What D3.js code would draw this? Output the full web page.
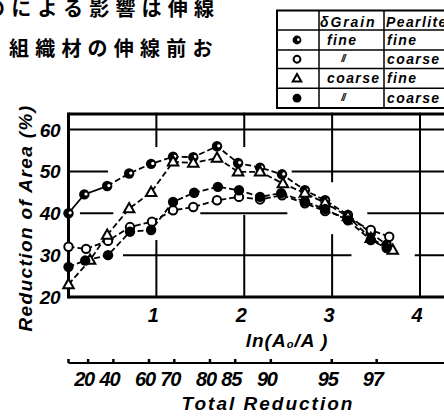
<!DOCTYPE html>
<html><head><meta charset="utf-8">
<script src="https://cdn.jsdelivr.net/npm/d3@7"></script>
<style>body{margin:0;background:#fff}svg{display:block}</style>
</head><body>
<svg id="c" width="444" height="417"></svg>
<script>
// ---------- data ----------
const lnTicks = [1, 2, 3, 4];
const yTicks = [20, 30, 40, 50, 60];
const reductionTicks = [20, 40, 60, 70, 80, 85, 90, 95, 97];

// ◐ δ fine / pearlite fine
const xA = [0, 0.18, 0.44, 0.69, 0.94, 1.19, 1.42, 1.69, 1.93, 2.18, 2.43, 2.69, 2.92, 3.18, 3.44, 3.62];
const yA = [40, 44.5, 46.5, 49.5, 51.8, 53.5, 53.4, 56, 52, 50.9, 49.3, 45.5, 43.1, 39.6, 35.3, 32.5];
// ○ δ fine / pearlite coarse
const xB = [0, 0.2, 0.45, 0.7, 0.95, 1.19, 1.42, 1.69, 1.94, 2.18, 2.43, 2.69, 2.92, 3.18, 3.44, 3.65];
const yB = [32, 31.5, 33.4, 36.7, 38, 40.7, 41.5, 43.1, 43.9, 43.3, 44.3, 42.4, 40.5, 38.8, 36, 34.4];
// △ δ coarse / pearlite fine
const xC = [0, 0.245, 0.44, 0.69, 0.94, 1.19, 1.42, 1.69, 1.93, 2.18, 2.44, 2.69, 2.92, 3.18, 3.44, 3.69];
const yC = [23, 28.8, 34.8, 41.1, 45, 52.3, 52, 53.2, 49.9, 49.9, 47.1, 44.8, 42.5, 39.2, 34, 31.2];
// ● δ coarse / pearlite coarse
const xD = [0, 0.19, 0.45, 0.7, 0.94, 1.19, 1.43, 1.7, 1.94, 2.18, 2.42, 2.69, 2.92, 3.18, 3.44, 3.62];
const yD = [27.2, 28.7, 30, 35.6, 36, 42.7, 44.9, 46.3, 45.5, 43.9, 44.8, 42.8, 41, 38.3, 33.6, 31.7];

const legendHeader = ["δGrain", "Pearlite"];
const legendGrain = ["fine", "〃", "coarse", "〃"];
const legendPearlite = ["fine", "coarse", "fine", "coarse"];
const legendSymbols = ["half", "open", "tri", "filled"];

// gridline pieces (value ranges along the other axis) – the drawing's grid is broken
const hGridValues = [30, 40, 50, 60];
const hGridSpans = [[[0.62, 3.22], [3.94, 4.5]], [[0.13, 0.51], [1.5, 2.49], [3.4, 4.5]], [[0, 0.45], [2.54, 4.5]], [[0, 4.5]]];
const vGridValues = [1, 2, 3, 4];
const vGridSpans = [[[20, 33.6], [55.8, 64]], [[20, 39.6], [55.8, 64]], [[20, 35], [47.4, 64]], [[20, 64]]];

const titleLines = ["のによる影響は伸線", "組織材の伸線前お"];

// ---------- layout ----------
const svg = d3.select("#c");
const x = d3.scaleLinear().domain([0, 4]).range([68.5, 420]);
const y = d3.scaleLinear().domain([20, 60]).range([297, 129.5]);
const yTop = 63.7, xRight = 4.5;
const F = "'Liberation Sans', Arial, sans-serif";
const FW = "bold";

// title text (Japanese)
svg.selectAll("text.title").data(titleLines).join("text")
  .attr("class", "title")
  .attr("x", (d, i) => i === 0 ? -15 : 9)
  .attr("y", (d, i) => i === 0 ? 16 : 56)
  .attr("font-family", "'Noto Sans CJK JP', sans-serif")
  .attr("font-weight", 700)
  .attr("font-size", 20).attr("letter-spacing", 6.2)
  .attr("fill", "#000").text(d => d);

// grid
const g = svg.append("g");
hGridValues.forEach((v, i) => {
  hGridSpans[i].forEach(s => {
    g.append("line").attr("x1", x(s[0])).attr("x2", x(s[1]))
      .attr("y1", y(v)).attr("y2", y(v))
      .attr("stroke", "#000").attr("stroke-width", 2);
  });
});
vGridValues.forEach((v, i) => {
  vGridSpans[i].forEach(s => {
    g.append("line").attr("x1", x(v)).attr("x2", x(v))
      .attr("y1", y(s[0])).attr("y2", y(s[1]))
      .attr("stroke", "#000").attr("stroke-width", 2);
  });
});
// frame: left, top, bottom
g.append("line").attr("x1", x(0)).attr("x2", x(0)).attr("y1", y(yTop) - 1.5).attr("y2", y(20) + 1.5).attr("stroke", "#000").attr("stroke-width", 3);
g.append("line").attr("x1", x(0)).attr("x2", x(xRight)).attr("y1", y(yTop)).attr("y2", y(yTop)).attr("stroke", "#000").attr("stroke-width", 3);
g.append("line").attr("x1", x(0)).attr("x2", x(xRight)).attr("y1", y(20)).attr("y2", y(20)).attr("stroke", "#000").attr("stroke-width", 3);

// y tick labels
svg.selectAll("text.yt").data(yTicks).join("text").attr("class", "yt")
  .attr("x", 60).attr("y", d => y(d) + 7)
  .attr("text-anchor", "end").attr("font-family", F).attr("font-style", "italic").attr("font-weight", FW)
  .attr("font-size", 19).attr("letter-spacing", -0.5).text(d => d);

// x tick labels
svg.selectAll("text.xt").data(lnTicks).join("text").attr("class", "xt")
  .attr("x", d => x(d) - 3).attr("y", 322)
  .attr("text-anchor", "middle").attr("font-family", F).attr("font-style", "italic").attr("font-weight", FW)
  .attr("font-size", 20).text(d => d);

// ln(Ao/A)
const ln = svg.append("text").attr("x", 287).attr("y", 347).attr("text-anchor", "middle")
  .attr("font-family", F).attr("font-style", "italic").attr("font-weight", FW).attr("font-size", 19).attr("letter-spacing", 1);
ln.append("tspan").text("ln(A");
ln.append("tspan").attr("font-size", 11).attr("dy", 1).text("o");
ln.append("tspan").attr("dy", -1).text("/A )");

// y title
svg.append("text").attr("transform", "translate(32,218) rotate(-90)")
  .attr("text-anchor", "middle").attr("font-family", F).attr("font-style", "italic").attr("font-weight", FW)
  .attr("font-size", 19).attr("letter-spacing", 1.4).text("Reduction of Area (%)");

// total reduction axis
const ry = 363;
svg.append("line").attr("x1", x(0)).attr("x2", 444).attr("y1", ry).attr("y2", ry).attr("stroke", "#000").attr("stroke-width", 2);
const redPos = r => x(-Math.log(1 - r / 100));
svg.selectAll("line.rt").data([0].concat(reductionTicks)).join("line").attr("class", "rt")
  .attr("x1", d => redPos(d)).attr("x2", d => redPos(d)).attr("y1", ry).attr("y2", ry - 4)
  .attr("stroke", "#000").attr("stroke-width", 2.5);
svg.selectAll("text.rl").data(reductionTicks).join("text").attr("class", "rl")
  .attr("x", d => redPos(d) - 4).attr("y", 386)
  .attr("text-anchor", "middle").attr("font-family", F).attr("font-style", "italic").attr("font-weight", FW)
  .attr("font-size", 20).attr("letter-spacing", -1.2).text(d => d);
svg.append("text").attr("x", 268).attr("y", 410).attr("text-anchor", "middle")
  .attr("font-family", F).attr("font-style", "italic").attr("font-weight", FW).attr("font-size", 19)
  .attr("letter-spacing", 2).text("Total Reduction");

// ---------- series ----------
const series = [
  { xs: xA, ys: yA, sym: "half" },
  { xs: xB, ys: yB, sym: "open" },
  { xs: xC, ys: yC, sym: "tri" },
  { xs: xD, ys: yD, sym: "filled" }
];
const line = d3.line().x(d => x(d[0])).y(d => y(d[1]));
const lg = svg.append("g");
series.forEach(s => {
  const pts = s.xs.map((v, i) => [v, s.ys[i]]);
  if (s.sym === "half") {
    lg.append("path").attr("d", line(pts.slice(0, 3))).attr("fill", "none")
      .attr("stroke", "#000").attr("stroke-width", 1.8);
    lg.append("path").attr("d", line(pts.slice(2))).attr("fill", "none")
      .attr("stroke", "#000").attr("stroke-width", 1.8).attr("stroke-dasharray", "6,3");
  } else {
    lg.append("path").attr("d", line(pts)).attr("fill", "none")
      .attr("stroke", "#000").attr("stroke-width", 1.8).attr("stroke-dasharray", "6,3");
  }
});

function drawSymbol(sel, type, cx, cy, r) {
  if (type === "tri") {
    const h = r * 2.2, w = r * 2.5;
    sel.append("path").attr("d", `M${cx},${cy - h * 0.6}L${cx + w / 2},${cy + h * 0.4}L${cx - w / 2},${cy + h * 0.4}Z`)
      .attr("fill", "#fff").attr("stroke", "#000").attr("stroke-width", 2).attr("stroke-linejoin", "miter");
  } else if (type === "open") {
    sel.append("circle").attr("cx", cx).attr("cy", cy).attr("r", r)
      .attr("fill", "#fff").attr("stroke", "#000").attr("stroke-width", 2);
  } else if (type === "filled") {
    sel.append("circle").attr("cx", cx).attr("cy", cy).attr("r", r + 1).attr("fill", "#000");
  } else {
    sel.append("circle").attr("cx", cx).attr("cy", cy).attr("r", r + 1).attr("fill", "#000");
    sel.append("circle").attr("cx", cx + r * 0.4).attr("cy", cy - r * 0.1).attr("r", r * 0.38).attr("fill", "#fff");
  }
}
const mg = svg.append("g");
series.forEach(s => {
  s.xs.forEach((v, i) => drawSymbol(mg, s.sym, x(v), y(s.ys[i]), 4.2));
});

// ---------- legend table ----------
const L = { x0: 277, x1: 319, x2: 384, right: 450, rows: [10.5, 30, 50, 68.5, 88.3, 108] };
const tg = svg.append("g");
tg.append("rect").attr("x", L.x0).attr("y", L.rows[0]).attr("width", L.right - L.x0).attr("height", L.rows[5] - L.rows[0])
  .attr("fill", "#fff").attr("stroke", "#000").attr("stroke-width", 2);
L.rows.slice(1, 5).forEach(r => tg.append("line").attr("x1", L.x0).attr("x2", L.right).attr("y1", r).attr("y2", r).attr("stroke", "#000").attr("stroke-width", 1.5));
[L.x1, L.x2].forEach(c => tg.append("line").attr("x1", c).attr("x2", c).attr("y1", L.rows[0]).attr("y2", L.rows[5]).attr("stroke", "#000").attr("stroke-width", 1.5));
function ttext(t, xx, yy, anchor) {
  return tg.append("text").attr("x", xx).attr("y", yy).attr("text-anchor", anchor)
    .attr("font-family", F).attr("font-style", "italic").attr("font-weight", FW)
    .attr("font-size", 14).attr("letter-spacing", 1.4).text(t);
}
ttext(legendHeader[0], 320, 27, "start").attr("letter-spacing", 1.9);
ttext(legendHeader[1], 386, 27, "start");
legendGrain.forEach((t, i) => {
  const cy = (L.rows[i + 1] + L.rows[i + 2]) / 2;
  if (t === "〃") {
    ttext("//", 343, cy + 3, "middle").attr("font-size", 10).attr("letter-spacing", -1);
  } else {
    ttext(t, 327, cy + 5, "start");
  }
  ttext(legendPearlite[i], 387, cy + 5, "start");
  drawSymbol(tg, legendSymbols[i], 297, cy, 3.4);
});
</script>
</body></html>
